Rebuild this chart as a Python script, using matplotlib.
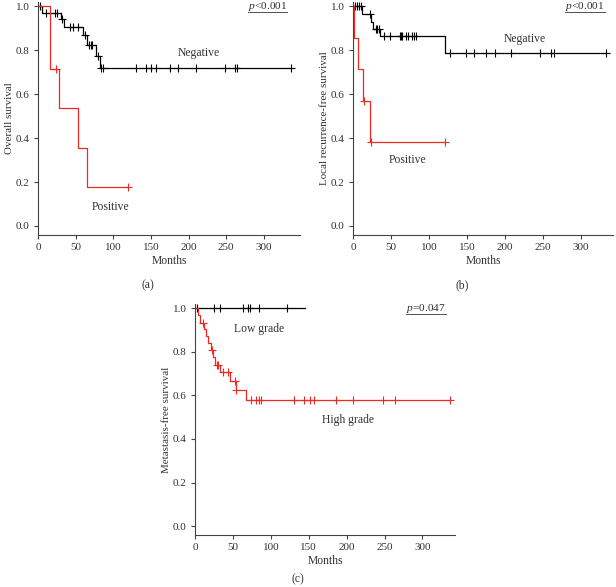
import numpy as np
import matplotlib.pyplot as plt
from matplotlib.lines import Line2D

plt.rcParams['font.family'] = ['Liberation Serif', 'DejaVu Serif']
plt.rcParams['mathtext.fontset'] = 'custom'
plt.rcParams['mathtext.it'] = 'Liberation Serif:italic'
plt.rcParams['mathtext.rm'] = 'Liberation Serif'

TXT = '#333333'
RED = '#ee2a24'

# (a) overall survival
a_neg_times = [5, 30, 35, 60, 65, 77, 82]
a_neg_surv = [0.968, 0.942, 0.904, 0.870, 0.824, 0.776, 0.721]
a_neg_cens = [3, 10, 23, 25, 32, 42, 47, 53, 62, 68, 70, 72, 80, 84, 86,
              130, 144, 150, 157, 175, 186, 210, 249, 261, 264, 336]
a_neg_end = 336
a_pos_times = [16, 28, 53, 65]
a_pos_surv = [0.714, 0.536, 0.357, 0.179]
a_pos_cens = [24, 120]
a_pos_end = 120

# (b) local recurrence-free survival
b_neg_times = [12, 24, 26, 36, 121]
b_neg_surv = [0.965, 0.931, 0.899, 0.864, 0.786]
b_neg_cens = [2, 5, 8, 11, 22, 30, 32, 34, 41, 49, 62, 63.5, 65, 70, 73, 77,
              80, 83, 127, 149, 159, 175, 187, 208, 246, 261, 265, 333]
b_neg_end = 333
b_pos_times = [1.3, 6.6, 13, 23]
b_pos_surv = [0.857, 0.714, 0.571, 0.381]
b_pos_cens = [15, 24, 121]
b_pos_end = 121

# (c) metastasis-free survival
c_low_times = []
c_low_surv = []
c_low_cens = [3, 25, 33, 63, 70, 72, 84.5, 121]
c_low_end = 145
c_high_times = [4.4, 6.6, 12.3, 14.5, 16.7, 21, 24, 27, 33, 46, 53.7, 67]
c_high_surv = [0.968, 0.935, 0.903, 0.871, 0.839, 0.807, 0.775, 0.742,
               0.706, 0.668, 0.625, 0.578]
c_high_cens = [11, 23, 28.6, 31, 36.5, 43, 52.8, 54.5, 74, 81, 85, 87,
               130, 144, 152, 157, 186, 209, 248, 264, 336]
c_high_end = 336

FS = 8.4


def km(ax, times, surv, cens, end, color):
    x = [0] + list(times) + [end]
    y = [1.0] + list(surv) + [surv[-1] if surv else 1.0]
    ax.step(x, y, where='post', color=color, lw=0.9)
    t = np.array(times)
    lv = np.array([1.0] + list(surv))
    cy = [lv[np.searchsorted(t, c, side='right')] for c in cens]
    ax.plot(cens, cy, ls='none', marker='+', ms=5.5, mew=0.8, color=color)


def style(ax, ylabel, xmax):
    ax.set_xlim(0, xmax)
    ax.set_ylim(-0.041, 1.02)
    ax.set_xticks([0, 50, 100, 150, 200, 250, 300])
    ax.set_yticks([0.0, 0.2, 0.4, 0.6, 0.8, 1.0])
    ax.set_yticklabels(['0.0', '0.2', '0.4', '0.6', '0.8', '1.0'])
    for s in ['top', 'right']:
        ax.spines[s].set_visible(False)
    for s in ['left', 'bottom']:
        ax.spines[s].set_color('#444444')
        ax.spines[s].set_linewidth(0.8)
    ax.tick_params(colors='#444444', labelcolor=TXT, labelsize=8,
                   length=3, width=0.8, pad=3)
    ax.set_xlabel('Months', fontsize=FS, color=TXT, labelpad=2)
    ax.set_ylabel(ylabel, fontsize=7.9, color=TXT, labelpad=1.5)


def ptext(ax, s):
    return ax.text(331, 0.99, s, ha='right', va='baseline', fontsize=8.2, color=TXT)


fig = plt.figure(figsize=(6.16, 5.87), dpi=100)
ax1 = fig.add_axes([38/616, 1-235/587, 262/616, 233/587])
ax2 = fig.add_axes([353/616, 1-235/587, 260/616, 233/587])
ax3 = fig.add_axes([195/616, 1-535/587, 260/616, 231/587])

km(ax1, a_neg_times, a_neg_surv, a_neg_cens, a_neg_end, 'black')
km(ax1, a_pos_times, a_pos_surv, a_pos_cens, a_pos_end, RED)
style(ax1, 'Overall survival', 348)
ax1.text(214, 0.79, 'Negative', ha='center', va='center', fontsize=FS, color=TXT)
ax1.text(97, 0.087, 'Positive', ha='center', va='center', fontsize=FS, color=TXT)

km(ax2, b_neg_times, b_neg_surv, b_neg_cens, b_neg_end, 'black')
km(ax2, b_pos_times, b_pos_surv, b_pos_cens, b_pos_end, RED)
style(ax2, 'Local recurrence-free survival', 342)
ax2.text(226, 0.853, 'Negative', ha='center', va='center', fontsize=FS, color=TXT)
ax2.text(72, 0.30, 'Positive', ha='center', va='center', fontsize=FS, color=TXT)

km(ax3, c_low_times, c_low_surv, c_low_cens, c_low_end, 'black')
km(ax3, c_high_times, c_high_surv, c_high_cens, c_high_end, RED)
style(ax3, 'Metastasis-free survival', 343)
ax3.text(84, 0.905, 'Low grade', ha='center', va='center', fontsize=FS, color=TXT)
ax3.text(202, 0.486, 'High grade', ha='center', va='center', fontsize=FS, color=TXT)

pts = [ptext(ax1, r'$\mathit{p}$<0.001'),
       ptext(ax2, r'$\mathit{p}$<0.001'),
       ptext(ax3, r'$\mathit{p}$=0.047')]

fig.text(148/616, 1-285/587, '(a)', ha='center', va='center', fontsize=FS, color=TXT)
fig.text(462/616, 1-285/587, '(b)', ha='center', va='center', fontsize=FS, color=TXT)
fig.text(298/616, 2/587, '(c)', ha='center', va='bottom', fontsize=FS, color=TXT)

# underline the p-values
fig.canvas.draw()
inv = fig.transFigure.inverted()
for t in pts:
    bb = t.get_window_extent().transformed(inv)
    fig.add_artist(Line2D([bb.x0, bb.x1], [bb.y0 + 0.001, bb.y0 + 0.001],
                          color=TXT, lw=0.6, transform=fig.transFigure))

fig.savefig('out.png', dpi=100, facecolor='white')
